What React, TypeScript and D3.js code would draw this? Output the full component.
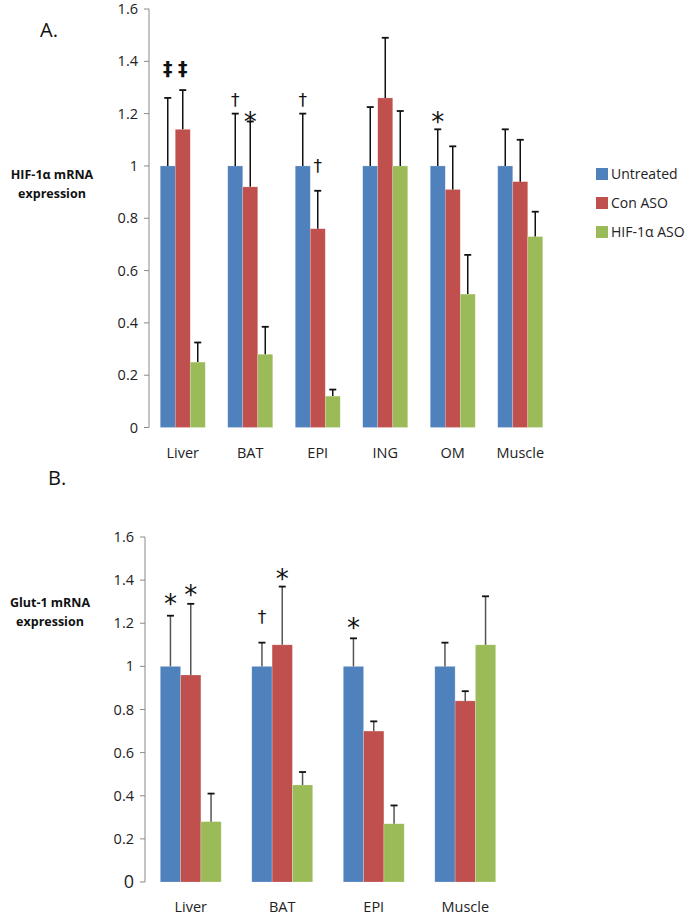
import { useEffect, useRef } from "react";
import * as d3 from "d3";

const SERIES = ["Untreated", "Con ASO", "HIF-1\u03b1 ASO"];
const COLORS = ["#4F81BD", "#C0504D", "#9BBB59"];

// panel A: HIF-1a mRNA
const TISSUES_A = ["Liver", "BAT", "EPI", "ING", "OM", "Muscle"];
const UNTREATED_A = [1, 1, 1, 1, 1, 1];
const UNTREATED_ERR_A = [0.26, 0.2, 0.2, 0.225, 0.14, 0.14];
const CON_A = [1.14, 0.92, 0.76, 1.26, 0.91, 0.94];
const CON_ERR_A = [0.15, 0.25, 0.145, 0.23, 0.165, 0.16];
const HIF_A = [0.25, 0.28, 0.12, 1.0, 0.51, 0.73];
const HIF_ERR_A = [0.075, 0.105, 0.025, 0.21, 0.15, 0.095];
// significance marks: tissue, series index, symbol, level
const MARKS_A = [
    ["Liver", 0, "\u2021", 1.375],
    ["Liver", 1, "\u2021", 1.375],
    ["BAT", 0, "\u2020", 1.25],
    ["BAT", 1, "*", 1.21],
    ["EPI", 0, "\u2020", 1.25],
    ["EPI", 1, "\u2020", 1.0],
    ["OM", 0, "*", 1.21],
];

// panel B: Glut-1 mRNA
const TISSUES_B = ["Liver", "BAT", "EPI", "Muscle"];
const UNTREATED_B = [1, 1, 1, 1];
const UNTREATED_ERR_B = [0.235, 0.11, 0.13, 0.11];
const CON_B = [0.96, 1.1, 0.7, 0.84];
const CON_ERR_B = [0.33, 0.27, 0.045, 0.045];
const HIF_B = [0.28, 0.45, 0.27, 1.1];
const HIF_ERR_B = [0.13, 0.06, 0.085, 0.225];
const MARKS_B = [
    ["Liver", 0, "*", 1.34],
    ["Liver", 1, "*", 1.38],
    ["BAT", 0, "\u2020", 1.23],
    ["BAT", 1, "*", 1.455],
    ["EPI", 0, "*", 1.225],
];

const Y_TICKS = [0, 0.2, 0.4, 0.6, 0.8, 1, 1.2, 1.4, 1.6];
const FONT = "'Open Sans', 'Liberation Sans', sans-serif";

function drawPanel(svg, opts) {
    const { tissues, values, errors, marks, x0, x1, y0, y1, barW, errColor, title, letter, letterPos, titlePos, zeroSize } = opts;
    const g = svg.append("g");
    const xScale = d3.scaleBand().domain(tissues).range([x0, x1]);
    const yScale = d3.scaleLinear().domain([0, 1.6]).range([y0, y1]);
    const sub = d3.scaleBand().domain(d3.range(3)).range([-1.5 * barW, 1.5 * barW]);

    /* y axis */
    g.append("line")
        .attr("x1", x0).attr("x2", x0)
        .attr("y1", yScale(0)).attr("y2", yScale(1.6))
        .attr("stroke", "#8a8a8a").attr("stroke-width", 1);
    Y_TICKS.forEach(t => {
        g.append("line")
            .attr("x1", x0 - 5).attr("x2", x0)
            .attr("y1", yScale(t)).attr("y2", yScale(t))
            .attr("stroke", "#8a8a8a");
        g.append("text")
            .attr("x", x0 - 11).attr("y", yScale(t))
            .attr("dy", "0.35em")
            .attr("text-anchor", "end")
            .attr("font-family", FONT).attr("font-size", t === 0 ? zeroSize : 14.5)
            .attr("fill", "#222")
            .text(d3.format("~g")(t));
    });

    /* bars and error bars */
    tissues.forEach((tissue, i) => {
        const cx = xScale(tissue) + xScale.bandwidth() / 2;
        values.forEach((vals, s) => {
            const bx = cx + sub(s);
            const top = yScale(vals[i]);
            g.append("rect")
                .attr("x", bx).attr("y", top)
                .attr("width", sub.bandwidth()).attr("height", yScale(0) - top)
                .attr("fill", COLORS[s])
                .attr("stroke", "rgba(255,255,255,0.35)").attr("stroke-width", 0.6);
            const mx = bx + sub.bandwidth() / 2;
            const et = yScale(vals[i] + errors[s][i]);
            g.append("line")
                .attr("x1", mx).attr("x2", mx).attr("y1", top).attr("y2", et)
                .attr("stroke", errColor).attr("stroke-width", 1.5);
            g.append("line")
                .attr("x1", mx - 3.5).attr("x2", mx + 3.5).attr("y1", et).attr("y2", et)
                .attr("stroke", "#111").attr("stroke-width", 1.8);
        });
        g.append("text")
            .attr("x", cx).attr("y", y0 + 30)
            .attr("text-anchor", "middle")
            .attr("font-family", FONT).attr("font-size", 14.5)
            .attr("fill", "#222")
            .text(tissue);
    });

    /* significance marks */
    marks.forEach(([tissue, s, sym, lvl]) => {
        const cx = xScale(tissue) + xScale.bandwidth() / 2 + sub(s) + sub.bandwidth() / 2;
        const star = sym === "*";
        g.append("text")
            .attr("x", cx).attr("y", yScale(lvl))
            .attr("dy", star ? "0.75em" : "0.35em")
            .attr("text-anchor", "middle")
            .attr("font-family", "'DejaVu Sans', sans-serif")
            .attr("font-size", star ? 26 : sym === "\u2021" ? 19 : 17)
            .attr("font-weight", sym === "\u2021" ? "bold" : "normal")
            .attr("fill", "#111")
            .text(sym);
    });

    /* y title */
    const tt = g.append("text")
        .attr("text-anchor", "middle")
        .attr("font-family", FONT).attr("font-weight", "bold").attr("font-size", 12.5)
        .attr("fill", "#111");
    tt.append("tspan").attr("x", titlePos[0]).attr("y", titlePos[1]).text(title);
    tt.append("tspan").attr("x", titlePos[0]).attr("y", titlePos[1] + 19).text("expression");

    g.append("text")
        .attr("x", letterPos[0]).attr("y", letterPos[1])
        .attr("font-family", FONT).attr("font-size", 20)
        .attr("fill", "#111")
        .text(letter);
}

export default function App() {
    const svgRef = useRef(null);

    useEffect(() => {
        const svg = d3.select(svgRef.current);
        svg.selectAll("*").remove();

        drawPanel(svg, {
            tissues: TISSUES_A,
            values: [UNTREATED_A, CON_A, HIF_A],
            errors: [UNTREATED_ERR_A, CON_ERR_A, HIF_ERR_A],
            marks: MARKS_A,
            x0: 149, x1: 554, y0: 427.5, y1: 9,
            barW: 15, errColor: "#111",
            title: "HIF-1\u03b1 mRNA", titlePos: [52, 179],
            letter: "A.", letterPos: [40, 37],
            zeroSize: 14.5,
        });
        drawPanel(svg, {
            tissues: TISSUES_B,
            values: [UNTREATED_B, CON_B, HIF_B],
            errors: [UNTREATED_ERR_B, CON_ERR_B, HIF_ERR_B],
            marks: MARKS_B,
            x0: 145, x1: 511, y0: 882, y1: 537,
            barW: 20.3, errColor: "#555",
            title: "Glut-1 mRNA", titlePos: [50, 607],
            letter: "B.", letterPos: [48, 485],
            zeroSize: 18,
        });

        /* legend */
        const legend = svg.append("g");
        SERIES.forEach((name, i) => {
            const y = 174 + i * 29;
            legend.append("rect")
                .attr("x", 596).attr("y", y - 6)
                .attr("width", 12).attr("height", 12)
                .attr("fill", COLORS[i]);
            legend.append("text")
                .attr("x", 611).attr("y", y)
                .attr("dy", "0.35em")
                .attr("font-family", FONT).attr("font-size", 14)
                .attr("fill", "#222")
                .text(name);
        });
    }, []);

    return (
        <svg ref={svgRef} width={690} height={916}
            style={{ position: "absolute", left: 0, top: 0, background: "#fff" }} />
    );
}
